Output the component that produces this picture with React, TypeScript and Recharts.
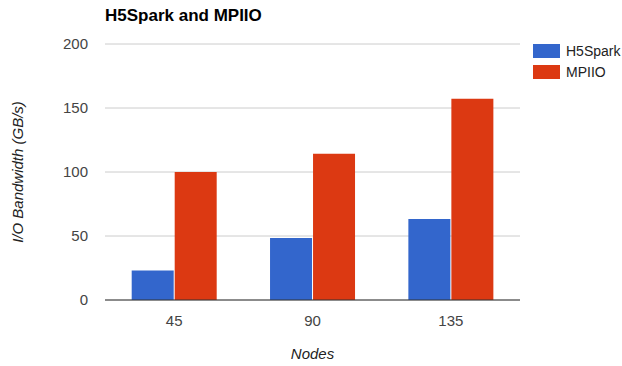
import React from 'react';
import { BarChart, Bar, XAxis, YAxis, CartesianGrid } from 'recharts';

const categories = ['45', '90', '135'];
const h5spark = [23, 48.4, 63.3];
const mpiio = [100, 114.3, 157.3];
const yTicks = [0, 50, 100, 150, 200];
const seriesNames = ['H5Spark', 'MPIIO'];
const seriesColors = ['#3366cc', '#dc3912'];

const data = categories.map((c, i) => ({ nodes: c, H5Spark: h5spark[i], MPIIO: mpiio[i] }));

const FONT = 'Arial, "Liberation Sans", sans-serif';

export default function App() {
  return (
    <div style={{ position: 'absolute', left: 0, top: 0, width: 622, height: 366, background: '#fff', overflow: 'hidden' }}>
      <BarChart
        width={622}
        height={366}
        data={data}
        margin={{ top: 44, right: 102, bottom: 36, left: 0 }}
        barCategoryGap="19.3%"
        barGap={1}
      >
        <CartesianGrid vertical={false} stroke="#cccccc" />
        <XAxis
          dataKey="nodes"
          height={30}
          tickLine={false}
          tickSize={0}
          tickMargin={15}
          axisLine={{ stroke: '#333333' }}
          tick={{ fill: '#444444', fontSize: 15, fontFamily: FONT }}
          label={{
            content: () => (
              <text x={312.5} y={359} textAnchor="middle" fontFamily={FONT} fontSize={15} fontStyle="italic" fill="#222">
                Nodes
              </text>
            ),
          }}
        />
        <YAxis
          width={105}
          domain={[0, 200]}
          ticks={yTicks}
          axisLine={false}
          tickLine={false}
          tickSize={0}
          tickMargin={17}
          tick={{ fill: '#444444', fontSize: 15, fontFamily: FONT }}
          label={{
            content: () => (
              <text
                x={23}
                y={172}
                textAnchor="middle"
                transform="rotate(-90 23 172)"
                fontFamily={FONT}
                fontSize={15}
                fontStyle="italic"
                fill="#222"
              >
                I/O Bandwidth (GB/s)
              </text>
            ),
          }}
        />
        <Bar dataKey="H5Spark" fill={seriesColors[0]} isAnimationActive={false} />
        <Bar dataKey="MPIIO" fill={seriesColors[1]} isAnimationActive={false} />
      </BarChart>
      <div style={{ position: 'absolute', left: 533, top: 40, fontFamily: FONT, fontSize: 14, color: '#222', whiteSpace: 'nowrap' }}>
        {seriesNames.map((n, i) => (
          <div key={n} style={{ display: 'flex', alignItems: 'center', height: 21 }}>
            <div style={{ width: 27, height: 14, background: seriesColors[i], marginRight: 6 }} />
            <span>{n}</span>
          </div>
        ))}
      </div>
      <svg width={622} height={366} style={{ position: 'absolute', left: 0, top: 0, pointerEvents: 'none' }}>
        <text x={105} y={20.7} fontFamily={FONT} fontSize={17} fontWeight="bold" fill="#000">
          H5Spark and MPIIO
        </text>
      </svg>
    </div>
  );
}
